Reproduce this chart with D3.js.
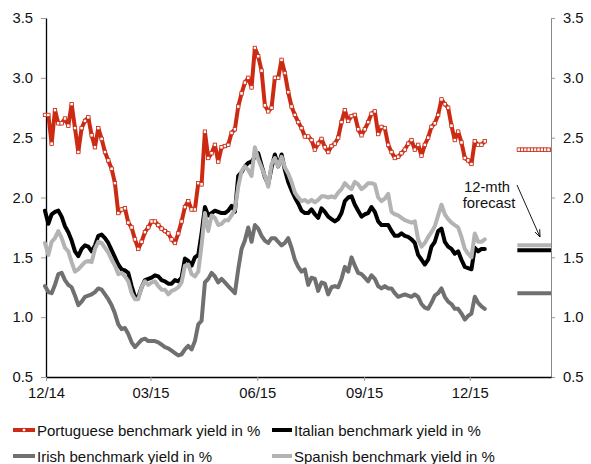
<!DOCTYPE html>
<html>
<head>
<meta charset="utf-8">
<script src="https://cdn.jsdelivr.net/npm/d3@7"></script>
<style>
  html, body { margin: 0; padding: 0; background: #fff; }
  svg { display: block; font-family: "Liberation Sans", Arial, sans-serif; }
</style>
</head>
<body>
<svg id="chart" width="591" height="464"></svg>
<script>
// ---------------- DATA ----------------
const seriesNames = [
  "Portuguese benchmark yield in %",
  "Italian benchmark yield in %",
  "Irish benchmark yield in %",
  "Spanish benchmark yield in %"
];
const tickLabels = ["12/14", "03/15", "06/15", "09/15", "12/15"];
const tickDates = ["2014-12-01", "2015-03-01", "2015-06-01", "2015-09-01", "2015-12-01"];
const yTicks = [0.5, 1.0, 1.5, 2.0, 2.5, 3.0, 3.5];
const forecastLabel = ["12-mth", "forecast"];
const forecastValues = [2.4, 1.56, 1.2, 1.6];   // Portuguese, Italian, Irish, Spanish
const forecastPeriod = ["2016-01-11", "2016-02-09"];

const portuguese = [
  2.69,2.69,2.45,2.73,2.62,2.62,2.66,2.60,2.78,2.58,
  2.38,2.58,2.64,2.67,2.52,2.42,2.58,2.49,2.38,2.31,
  2.24,2.12,1.87,1.90,1.91,1.79,1.75,1.65,1.57,1.63,
  1.71,1.75,1.80,1.80,1.77,1.74,1.72,1.70,1.65,1.62,
  1.70,1.80,1.92,1.97,1.90,1.90,2.12,2.11,2.55,2.33,
  2.37,2.44,2.30,2.42,2.43,2.44,2.54,2.57,2.76,2.87,
  2.96,3.00,2.92,3.25,3.18,3.06,2.77,2.72,2.75,3.00,
  3.00,3.15,3.04,2.88,2.76,2.69,2.63,2.58,2.51,2.51,
  2.48,2.40,2.45,2.49,2.42,2.38,2.43,2.45,2.50,2.63,
  2.73,2.64,2.68,2.69,2.57,2.52,2.57,2.63,2.70,2.72,
  2.53,2.59,2.58,2.44,2.38,2.33,2.34,2.37,2.40,2.45,
  2.48,2.40,2.44,2.35,2.44,2.50,2.59,2.62,2.69,2.82,
  2.78,2.75,2.60,2.48,2.55,2.46,2.33,2.31,2.28,2.47,
  2.44,2.44,2.47
];
const italian = [
  1.89,1.78,1.86,1.88,1.89,1.84,1.76,1.71,1.64,1.55,
  1.51,1.57,1.60,1.59,1.55,1.60,1.68,1.69,1.66,1.62,
  1.56,1.50,1.44,1.40,1.39,1.37,1.26,1.17,1.17,1.25,
  1.31,1.32,1.33,1.35,1.34,1.31,1.30,1.28,1.28,1.31,
  1.30,1.33,1.49,1.47,1.43,1.50,1.52,1.70,1.92,1.85,
  1.87,1.89,1.88,1.87,1.87,1.89,1.93,1.88,2.18,2.21,
  2.26,2.29,2.30,2.34,2.37,2.27,2.17,2.11,2.25,2.36,
  2.26,2.36,2.23,2.13,2.06,2.00,1.95,1.89,1.87,1.87,
  1.90,1.86,1.83,1.91,1.88,1.84,1.82,1.80,1.82,1.87,
  1.97,2.00,2.01,1.94,1.89,1.84,1.86,1.87,1.92,1.88,
  1.80,1.77,1.77,1.77,1.72,1.68,1.68,1.70,1.68,1.67,
  1.65,1.62,1.52,1.48,1.44,1.48,1.59,1.63,1.72,1.74,
  1.63,1.59,1.57,1.53,1.55,1.48,1.42,1.41,1.40,1.58,
  1.55,1.57,1.57
];
const irish = [
  1.26,1.21,1.20,1.27,1.36,1.37,1.31,1.27,1.25,1.18,
  1.10,1.13,1.17,1.18,1.19,1.21,1.24,1.23,1.19,1.15,
  1.10,1.03,0.94,0.90,0.91,0.86,0.79,0.75,0.78,0.81,
  0.82,0.80,0.80,0.80,0.79,0.77,0.75,0.74,0.72,0.70,
  0.68,0.69,0.73,0.76,0.73,0.80,0.94,0.97,1.29,1.32,
  1.37,1.34,1.29,1.32,1.29,1.26,1.23,1.20,1.40,1.57,
  1.64,1.75,1.63,1.77,1.74,1.68,1.64,1.62,1.66,1.66,
  1.63,1.60,1.62,1.66,1.58,1.48,1.42,1.38,1.40,1.27,
  1.33,1.32,1.22,1.29,1.28,1.19,1.25,1.26,1.25,1.32,
  1.42,1.38,1.50,1.43,1.37,1.36,1.33,1.30,1.35,1.32,
  1.26,1.24,1.26,1.24,1.24,1.20,1.17,1.18,1.19,1.18,
  1.17,1.19,1.17,1.11,1.08,1.07,1.12,1.18,1.20,1.24,
  1.17,1.13,1.11,1.07,1.07,1.03,0.98,1.01,1.03,1.17,
  1.12,1.09,1.07
];
const spanish = [
  1.62,1.52,1.63,1.66,1.72,1.66,1.58,1.55,1.46,1.38,
  1.40,1.43,1.46,1.47,1.46,1.57,1.63,1.62,1.58,1.54,
  1.48,1.43,1.36,1.37,1.34,1.30,1.20,1.15,1.15,1.25,
  1.30,1.27,1.29,1.30,1.26,1.23,1.23,1.19,1.22,1.23,
  1.25,1.29,1.43,1.44,1.36,1.34,1.38,1.60,1.87,1.72,
  1.85,1.83,1.77,1.78,1.81,1.81,1.85,1.90,2.09,2.22,
  2.26,2.23,2.18,2.42,2.32,2.25,2.18,2.09,2.28,2.33,
  2.26,2.34,2.25,2.20,2.13,2.04,2.00,1.97,1.98,1.96,
  1.98,1.96,1.98,2.01,2.01,2.00,2.01,2.00,2.04,2.07,
  2.12,2.09,2.07,2.13,2.11,2.07,2.09,2.12,2.12,2.11,
  2.00,1.97,1.99,2.03,1.88,1.86,1.85,1.83,1.81,1.80,
  1.79,1.80,1.65,1.59,1.62,1.67,1.71,1.76,1.85,1.94,
  1.86,1.82,1.79,1.77,1.75,1.67,1.57,1.53,1.50,1.70,
  1.63,1.63,1.65
];
// observation dates: roughly every second business day from end-Nov 2014
const obsStart = new Date(2014, 10, 30, 3);
const obsStepDays = 2.87;
const dates = d3.range(portuguese.length).map(i => new Date(+obsStart + i * obsStepDays * 864e5));

// ---------------- STYLE ----------------
const colors = ["#cc2a12", "#000000", "#707070", "#b3b3b3"];
const widths = [4, 4, 4, 4];
const M = { l: 46, r: 551, t: 18, b: 377 };

const svg = d3.select("#chart");
const x = d3.scaleTime()
  .domain([new Date(2014, 11, 1), new Date(2016, 1, 9)])
  .range([M.l, M.r]);
const y = d3.scaleLinear().domain([0.5, 3.5]).range([M.b, M.t]);
const parse = d3.timeParse("%Y-%m-%d");

// ---------------- AXES ----------------
const fontSize = 14.8;
const ff = "Liberation Sans, Arial, sans-serif";
const yLeft = svg.append("g").attr("transform", `translate(${M.l},0)`)
  .call(d3.axisLeft(y).tickValues(yTicks).tickFormat(d3.format(".1f")).tickSize(5).tickSizeOuter(0).tickPadding(8));
yLeft.select(".domain").attr("stroke", "#000").attr("stroke-width", 1.3);
yLeft.selectAll(".tick line").attr("stroke", "#999");
yLeft.selectAll(".tick text").attr("font-size", fontSize).attr("fill", "#111").attr("font-family", ff);

const yRight = svg.append("g").attr("transform", `translate(${M.r},0)`)
  .call(d3.axisRight(y).tickValues(yTicks).tickFormat(d3.format(".1f")).tickSize(4).tickSizeOuter(0).tickPadding(8));
yRight.select(".domain").attr("stroke", "#888").attr("stroke-width", 1);
yRight.selectAll(".tick line").attr("stroke", "#999");
yRight.selectAll(".tick text").attr("font-size", fontSize).attr("fill", "#111").attr("font-family", ff);

const xAxis = svg.append("g").attr("transform", `translate(0,${M.b})`)
  .call(d3.axisBottom(x).tickValues(tickDates.map(parse)).tickFormat((d, i) => tickLabels[i]).tickSize(4).tickSizeOuter(0).tickPadding(6));
xAxis.select(".domain").attr("stroke", "#000").attr("stroke-width", 1.3);
xAxis.selectAll(".tick line").attr("stroke", "#999");
xAxis.selectAll(".tick text").attr("font-size", fontSize).attr("fill", "#111").attr("font-family", ff);

// ---------------- LINES ----------------
const allSeries = [portuguese, italian, irish, spanish];
const line = d3.line().x((d, i) => x(dates[i])).y(d => y(d)).curve(d3.curveLinear);

allSeries.forEach((vals, s) => {
  svg.append("path")
    .datum(vals)
    .attr("fill", "none")
    .attr("stroke", colors[s])
    .attr("stroke-width", widths[s])
    .attr("stroke-linejoin", "round")
    .attr("stroke-linecap", "round")
    .attr("d", line);
});

// Portuguese markers
const mk = 3.4;
svg.append("g").selectAll("rect").data(portuguese).join("rect")
  .attr("x", (d, i) => x(dates[i]) - mk / 2)
  .attr("y", d => y(d) - mk / 2)
  .attr("width", mk).attr("height", mk)
  .attr("fill", "#fff").attr("stroke", colors[0]).attr("stroke-width", 0.8);

// ---------------- FORECASTS ----------------
const fx0 = x(parse(forecastPeriod[0])), fx1 = x(parse(forecastPeriod[1]));
forecastValues.forEach((v, s) => {
  svg.append("line")
    .attr("x1", fx0).attr("x2", fx1)
    .attr("y1", y(v)).attr("y2", y(v))
    .attr("stroke", colors[s]).attr("stroke-width", widths[s]);
});
const fMarks = d3.range(fx0 + 1.5, fx1 - 1, 3.3);
svg.append("g").selectAll("rect").data(fMarks).join("rect")
  .attr("x", d => d - mk / 2)
  .attr("y", y(forecastValues[0]) - mk / 2)
  .attr("width", mk).attr("height", mk)
  .attr("fill", "#fff").attr("stroke", colors[0]).attr("stroke-width", 0.8);

// annotation
const ann = svg.append("g").attr("font-size", fontSize).attr("fill", "#111").attr("text-anchor", "middle");
ann.append("text").attr("x", 487).attr("y", 192).text(forecastLabel[0]);
ann.append("text").attr("x", 489).attr("y", 208).text(forecastLabel[1]);
svg.append("defs").append("marker")
  .attr("id", "arrow").attr("viewBox", "0 0 10 10").attr("refX", 10).attr("refY", 5)
  .attr("markerWidth", 8).attr("markerHeight", 8).attr("orient", "auto-start-reverse")
  .append("path").attr("d", "M0,1 L10,5 L0,9").attr("fill", "none").attr("stroke", "#000").attr("stroke-width", 1.2);
svg.append("line")
  .attr("x1", 517).attr("y1", 185).attr("x2", 540).attr("y2", 237)
  .attr("stroke", "#000").attr("stroke-width", 0.9).attr("marker-end", "url(#arrow)");

// ---------------- LEGEND ----------------
const legendPos = [[13, 430], [272, 430], [13, 456], [272, 456]];
const lg = svg.append("g");
seriesNames.forEach((name, s) => {
  const [lx, ly] = legendPos[s];
  const sw = s % 2 === 0 ? 22 : 20;
  lg.append("line").attr("x1", lx).attr("x2", lx + sw).attr("y1", ly).attr("y2", ly)
    .attr("stroke", colors[s]).attr("stroke-width", widths[s]);
  if (s === 0) {
    lg.append("rect").attr("x", lx + sw / 2 - mk / 2).attr("y", ly - mk / 2).attr("width", mk).attr("height", mk)
      .attr("fill", "#fff").attr("stroke", colors[0]).attr("stroke-width", 0.8);
  }
  lg.append("text").attr("x", lx + sw + 2).attr("y", ly + 5.5)
    .attr("font-size", 15).attr("fill", "#111").text(name);
});
</script>
</body>
</html>
